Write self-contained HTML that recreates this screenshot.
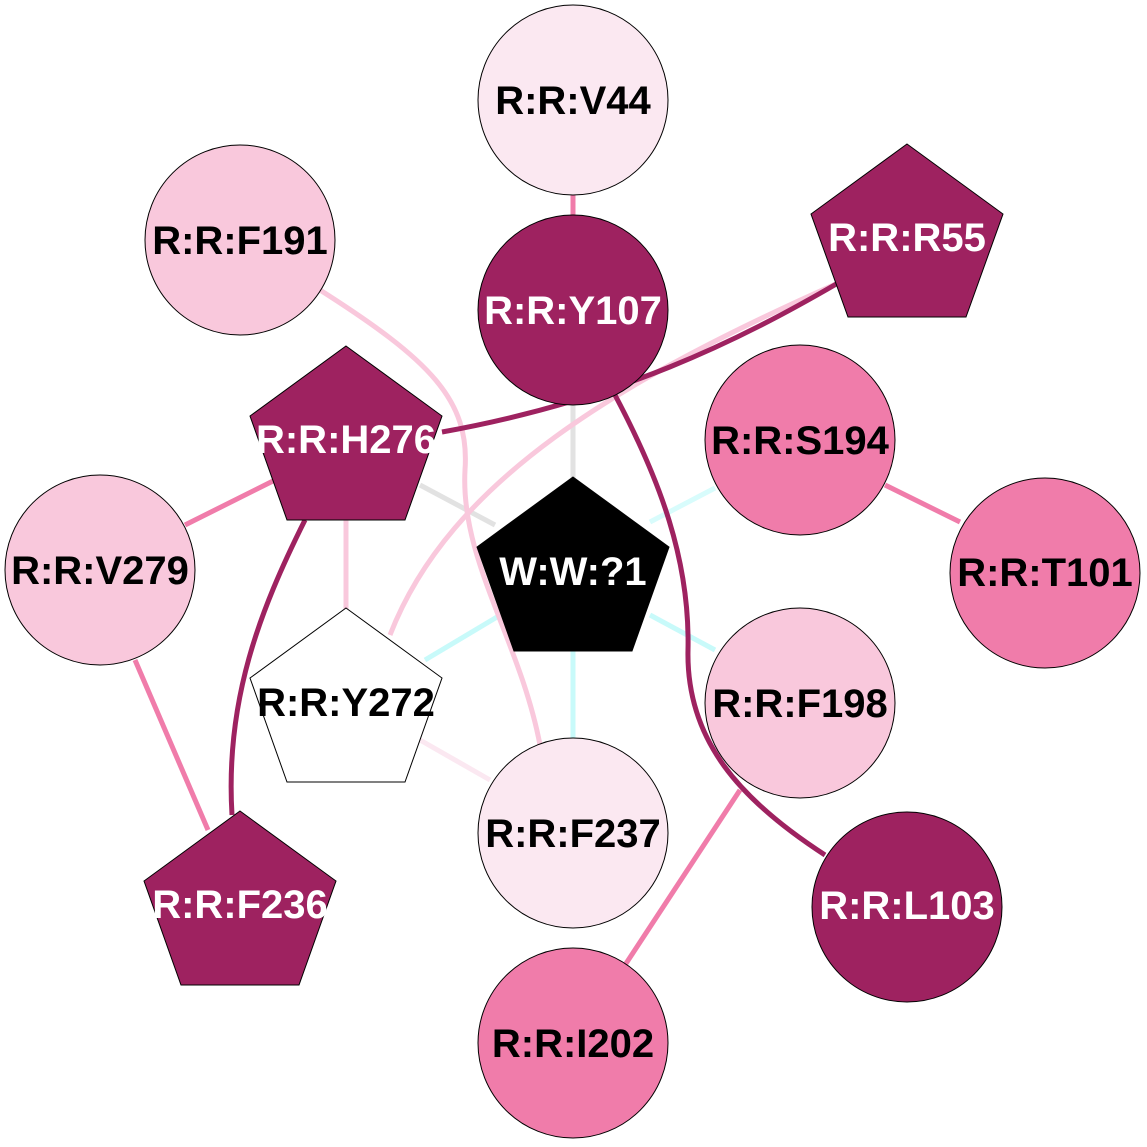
<!DOCTYPE html>
<html><head><meta charset="utf-8"><style>html,body{margin:0;padding:0;background:#fff}svg{display:block}</style></head><body>
<svg width="1147" height="1147" viewBox="0 0 1147 1147" xmlns="http://www.w3.org/2000/svg" font-family="Liberation Sans, sans-serif" font-weight="bold" font-size="40">
<g fill="none" stroke-width="5">
<line x1="573" y1="190" x2="573" y2="220" stroke="#f07caa"/>
<line x1="573" y1="400" x2="573" y2="490" stroke="#e2e2e2"/>
<path d="M420 485 L495 525" stroke="#e2e2e2"/>
<path d="M715 488 L650 522" stroke="#d8fcfc"/>
<path d="M497 617 L425 660" stroke="#c8fafa"/>
<line x1="573" y1="640" x2="573" y2="745" stroke="#c8fafa"/>
<path d="M650 615 L715 650" stroke="#c8fafa"/>
<path d="M420 740 L490 780" stroke="#fbe8f1"/>
<path d="M320 290 C430 360 470 400 465 470 C460 560 520 640 540 745" stroke="#f9c8dc"/>
<path d="M838 283 C620 380 450 480 390 635" stroke="#f9c8dc"/>
<line x1="346" y1="520" x2="346" y2="610" stroke="#f9c8dc"/>
<path d="M275 480 L185 525" stroke="#f07caa"/>
<path d="M135 660 L208 830" stroke="#f07caa"/>
<path d="M885 485 L960 522" stroke="#f07caa"/>
<path d="M740 790 L625 965" stroke="#f07caa"/>
<path d="M615 395 C660 480 690 560 688 650 C686 740 740 800 825 855" stroke="#9e2260"/>
<path d="M838 283 C740 340 620 400 442 432" stroke="#9e2260"/>
<path d="M305 520 C260 610 225 700 232 815" stroke="#9e2260"/>
</g>
<g stroke="#000" stroke-width="1">
<circle cx="573" cy="100" r="95" fill="#fbe8f1"/>
<circle cx="573" cy="310" r="95" fill="#9e2260"/>
<circle cx="240" cy="240" r="95" fill="#f9c8dc"/>
<circle cx="800" cy="440" r="95" fill="#f07caa"/>
<circle cx="1045" cy="573" r="95" fill="#f07caa"/>
<circle cx="100" cy="570" r="95" fill="#f9c8dc"/>
<circle cx="800" cy="703" r="95" fill="#f9c8dc"/>
<circle cx="573" cy="833" r="95" fill="#fbe8f1"/>
<circle cx="907" cy="907" r="95" fill="#9e2260"/>
<circle cx="573" cy="1043" r="95" fill="#f07caa"/>
<polygon points="907,144 1003,214 966,317 848,317 811,214" fill="#9e2260"/>
<polygon points="346,346 442,416 405,520 287,520 250,416" fill="#9e2260"/>
<polygon points="573,477 669,547 632,651 514,651 477,547" fill="#000"/>
<polygon points="346,608 442,678 405,782 287,782 250,678" fill="#fff"/>
<polygon points="240,811 336,881 299,985 181,985 144,881" fill="#9e2260"/>
</g>
<g text-anchor="middle">
<text x="573" y="114" fill="#000">R:R:V44</text>
<text x="573" y="324" fill="#fff">R:R:Y107</text>
<text x="240" y="254" fill="#000">R:R:F191</text>
<text x="907" y="251" fill="#fff">R:R:R55</text>
<text x="346" y="453" fill="#fff">R:R:H276</text>
<text x="800" y="454" fill="#000">R:R:S194</text>
<text x="1045" y="586" fill="#000">R:R:T101</text>
<text x="100" y="584" fill="#000">R:R:V279</text>
<text x="573" y="585" fill="#fff">W:W:?1</text>
<text x="346" y="716" fill="#000">R:R:Y272</text>
<text x="800" y="717" fill="#000">R:R:F198</text>
<text x="573" y="847" fill="#000">R:R:F237</text>
<text x="240" y="918" fill="#fff">R:R:F236</text>
<text x="907" y="919" fill="#fff">R:R:L103</text>
<text x="573" y="1057" fill="#000">R:R:I202</text>
</g>
</svg>
</body></html>
